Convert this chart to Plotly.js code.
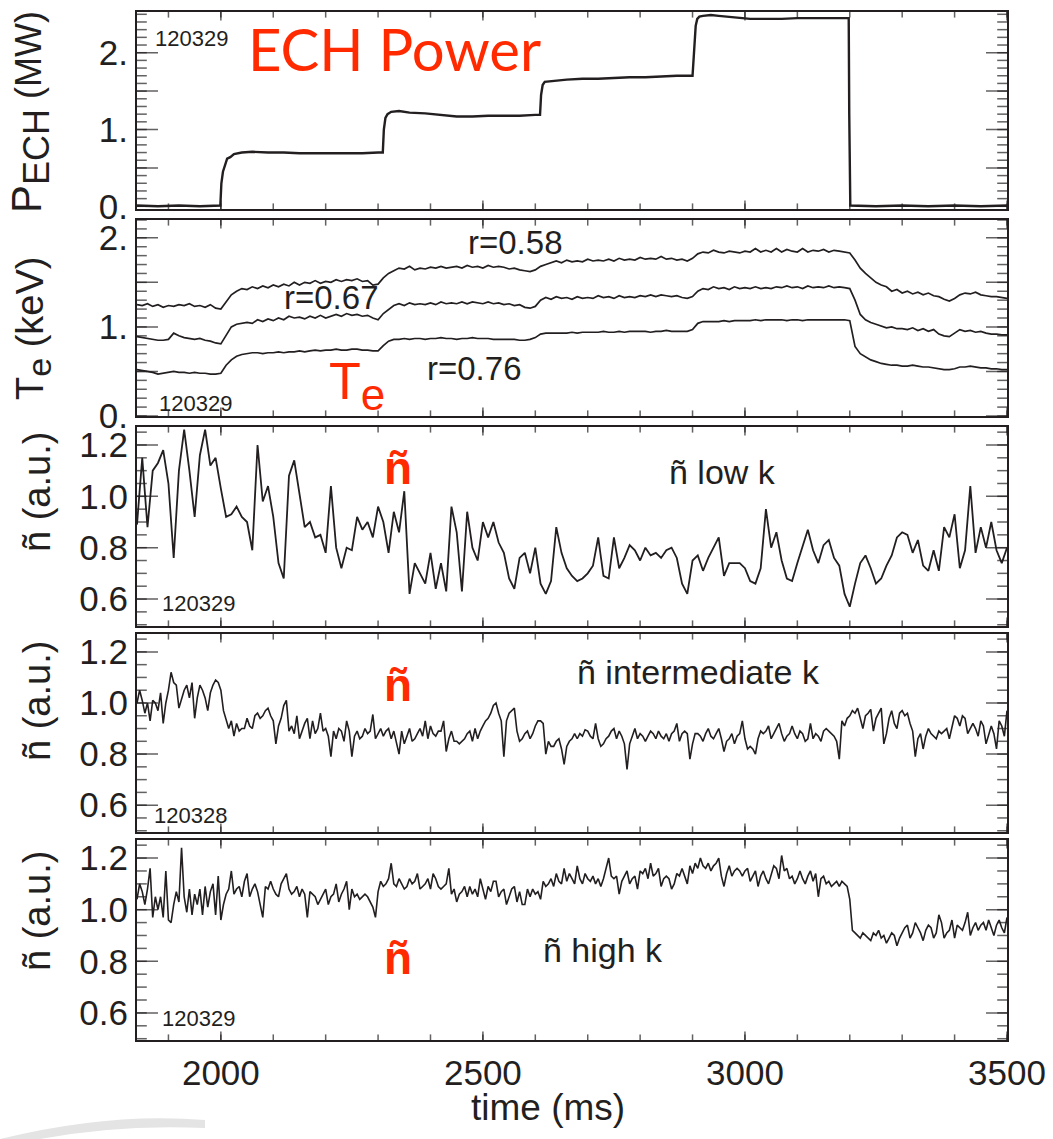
<!DOCTYPE html>
<html>
<head>
<meta charset="utf-8">
<script src="https://cdn.plot.ly/plotly-3.0.1.min.js"></script>
<style>html,body{margin:0;padding:0;background:#fff}</style>
</head>
<body>
<div id="chart" style="width:1053px;height:1139px"></div>
<script>
// ---------------- DATA ----------------
const timeRange = [1840, 3500];          // ms
const sampleStart = 1840;                 // ms, first sample of the sampled signals
const teStep = 10;                        // ms between Te samples
const lowKStep = 10;                      // ms between low-k samples
const fineStep = 5;                       // ms between intermediate/high-k samples

// ECH power (MW), shot 120329
const pechTime = [1840,1880,1920,1960,1999,2001,2004,2008,2012,2018,2025,2040,2060,2090,2120,2150,2180,2210,2240,2270,2300,2309,2311,2314,2318,2325,2340,2360,2390,2420,2450,2480,2510,2540,2570,2600,2609,2611,2614,2618,2630,2660,2690,2720,2750,2780,2810,2840,2870,2900,2904,2906,2909,2913,2920,2935,2950,2965,2980,2995,3010,3040,3070,3100,3130,3160,3198,3199,3201,3250,3300,3350,3400,3450,3500];
const pechMW = [0.01,0.0,0.01,0.0,0.01,0.30,0.45,0.55,0.62,0.64,0.68,0.70,0.71,0.70,0.70,0.69,0.69,0.69,0.69,0.69,0.70,0.70,1.00,1.15,1.20,1.23,1.24,1.22,1.21,1.19,1.17,1.17,1.18,1.18,1.18,1.19,1.19,1.45,1.58,1.62,1.63,1.65,1.66,1.66,1.67,1.68,1.68,1.69,1.70,1.70,2.10,2.35,2.44,2.47,2.48,2.49,2.48,2.47,2.46,2.45,2.44,2.44,2.44,2.45,2.45,2.45,2.45,1.2,0.01,0.0,0.01,0.0,0.01,0.0,0.01];

// Te (keV) at three radii, 10 ms samples from 1840 ms
const te058 = [1.25,1.24,1.26,1.23,1.25,1.22,1.24,1.23,1.25,1.24,1.26,1.23,1.24,1.22,1.25,1.21,
1.20,1.28,1.36,1.40,1.43,1.42,1.45,1.43,1.46,1.44,
1.47,1.45,1.48,1.46,1.50,1.47,1.50,1.49,1.52,1.49,
1.51,1.50,1.53,1.51,1.53,1.52,1.54,1.51,1.52,1.47,
1.48,1.55,1.60,1.63,1.66,1.65,1.68,1.64,1.66,1.65,
1.67,1.66,1.68,1.66,1.67,1.68,1.66,1.69,1.67,1.68,
1.66,1.69,1.67,1.68,1.67,1.65,1.66,1.64,1.63,1.62,
1.64,1.68,1.70,1.72,1.74,1.72,1.75,1.73,1.74,1.73,
1.76,1.74,1.75,1.74,1.76,1.74,1.77,1.75,1.76,1.75,
1.78,1.76,1.77,1.76,1.79,1.76,1.77,1.75,1.76,1.74,
1.77,1.82,1.84,1.83,1.86,1.84,1.83,1.85,1.84,1.83,
1.85,1.84,1.88,1.84,1.86,1.84,1.88,1.84,1.87,1.85,
1.84,1.88,1.84,1.86,1.85,1.87,1.84,1.86,1.85,1.84,
1.83,1.75,1.66,1.60,1.55,1.50,1.47,1.45,1.40,1.42,
1.38,1.40,1.37,1.39,1.36,1.38,1.35,1.34,1.31,1.29,
1.32,1.36,1.38,1.37,1.39,1.36,1.35,1.34,1.34,1.33,
1.32];
const te067 = [0.89,0.88,0.87,0.86,0.85,0.85,0.86,0.93,0.90,0.88,0.87,0.86,0.87,0.85,0.84,0.82,
0.81,0.90,1.00,1.03,1.04,1.05,1.04,1.08,1.06,1.09,
1.07,1.10,1.08,1.12,1.10,1.11,1.09,1.12,1.10,1.13,
1.10,1.12,1.14,1.12,1.15,1.13,1.14,1.12,1.13,1.10,
1.08,1.15,1.20,1.24,1.26,1.24,1.27,1.25,1.26,1.25,
1.27,1.25,1.28,1.26,1.27,1.26,1.28,1.26,1.28,1.27,
1.26,1.28,1.26,1.27,1.25,1.26,1.24,1.25,1.22,1.21,
1.23,1.30,1.33,1.31,1.34,1.32,1.33,1.31,1.34,1.32,
1.33,1.32,1.35,1.33,1.34,1.32,1.35,1.33,1.34,1.33,
1.35,1.34,1.36,1.34,1.36,1.35,1.34,1.35,1.33,1.32,
1.34,1.40,1.43,1.42,1.45,1.43,1.44,1.42,1.45,1.43,
1.44,1.43,1.45,1.43,1.44,1.43,1.45,1.44,1.46,1.44,
1.45,1.43,1.46,1.44,1.45,1.44,1.46,1.44,1.45,1.44,
1.43,1.30,1.14,1.08,1.05,1.03,1.01,0.99,1.00,0.98,
0.98,0.97,0.99,0.96,0.98,0.95,0.97,0.92,0.90,0.89,
0.93,0.97,0.95,0.96,0.94,0.95,0.93,0.92,0.92,0.91,
0.91];
const te076 = [0.52,0.51,0.50,0.49,0.47,0.48,0.49,0.50,0.49,0.49,0.48,0.49,0.48,0.48,0.47,0.47,
0.48,0.57,0.63,0.67,0.69,0.70,0.71,0.71,0.70,0.71,
0.71,0.72,0.71,0.72,0.72,0.73,0.72,0.73,0.74,0.73,
0.74,0.74,0.75,0.74,0.74,0.75,0.75,0.74,0.74,0.73,
0.73,0.79,0.84,0.86,0.86,0.87,0.86,0.87,0.87,0.86,
0.87,0.87,0.88,0.87,0.87,0.86,0.87,0.87,0.88,0.87,
0.87,0.87,0.86,0.86,0.86,0.86,0.86,0.85,0.85,0.86,
0.88,0.92,0.93,0.93,0.93,0.93,0.93,0.94,0.93,0.94,
0.94,0.94,0.94,0.95,0.94,0.94,0.95,0.94,0.95,0.95,
0.95,0.95,0.94,0.95,0.95,0.96,0.95,0.95,0.95,0.95,
0.97,1.04,1.06,1.06,1.06,1.06,1.07,1.06,1.07,1.07,
1.07,1.07,1.08,1.07,1.08,1.08,1.08,1.08,1.07,1.08,
1.08,1.07,1.08,1.08,1.08,1.08,1.08,1.08,1.08,1.08,
1.07,0.78,0.70,0.66,0.63,0.61,0.59,0.58,0.57,0.57,
0.56,0.56,0.57,0.56,0.55,0.55,0.54,0.53,0.52,0.52,
0.53,0.55,0.55,0.56,0.55,0.54,0.54,0.53,0.53,0.52,
0.52];

// density fluctuation, low k (10 ms samples)
const nLowK = [0.89,1.15,0.88,1.10,1.13,1.18,1.05,0.76,1.10,1.26,1.10,0.92,1.16,1.26,1.12,1.15,
1.03,0.92,0.93,0.96,0.92,0.90,0.79,1.20,0.98,1.04,
0.92,0.74,0.68,1.08,1.14,1.00,0.88,0.90,0.84,0.85,
0.78,1.04,0.80,0.72,0.80,0.79,0.92,0.87,0.90,0.84,
0.96,0.90,0.78,0.94,0.86,1.02,0.62,0.74,0.70,0.66,
0.78,0.64,0.74,0.63,0.96,0.86,0.63,0.94,0.80,0.75,
0.90,0.84,0.90,0.82,0.78,0.68,0.64,0.76,0.78,0.70,
0.80,0.66,0.62,0.67,0.88,0.78,0.72,0.69,0.67,0.68,
0.70,0.73,0.84,0.69,0.68,0.84,0.72,0.76,0.81,0.79,
0.75,0.80,0.77,0.78,0.76,0.79,0.80,0.76,0.66,0.62,
0.75,0.77,0.71,0.76,0.80,0.84,0.69,0.74,0.74,0.74,
0.72,0.67,0.66,0.72,0.95,0.80,0.86,0.75,0.68,0.67,
0.74,0.81,0.87,0.79,0.74,0.81,0.83,0.76,0.73,0.62,
0.57,0.66,0.74,0.77,0.72,0.66,0.68,0.73,0.77,0.84,
0.86,0.85,0.78,0.83,0.73,0.71,0.79,0.71,0.88,0.84,
0.93,0.72,0.79,1.04,0.78,0.88,0.80,0.90,0.79,0.74,
0.80];

// density fluctuation, intermediate k (5 ms samples, shot 120328)
const nIntK = [1.00,1.05,1.01,0.96,1.00,0.93,1.01,1.00,0.97,1.04,0.92,1.00,1.05,1.12,1.08,1.07,0.98,1.02,1.05,1.07,
1.02,1.08,0.94,1.02,1.07,1.05,1.02,0.97,1.04,1.07,1.09,1.08,1.05,0.97,0.93,0.90,0.93,0.87,0.92,0.89,
0.90,0.90,0.94,0.91,0.90,0.95,0.96,0.94,0.95,0.97,0.98,0.95,0.93,0.84,0.91,0.94,0.99,1.01,0.89,0.91,
0.88,0.95,0.86,0.89,0.92,0.94,0.86,0.93,0.88,0.90,0.96,0.89,0.90,0.87,0.79,0.89,0.86,0.90,0.89,0.85,
0.93,0.89,0.79,0.87,0.89,0.86,0.87,0.90,0.88,0.89,0.955,0.86,0.88,0.90,0.87,0.89,0.90,0.86,0.89,0.84,
0.80,0.89,0.84,0.87,0.90,0.85,0.86,0.88,0.90,0.87,0.93,0.86,0.91,0.88,0.87,0.89,0.89,0.93,0.81,0.86,
0.89,0.85,0.85,0.84,0.85,0.86,0.88,0.89,0.85,0.90,0.86,0.89,0.91,0.93,0.94,0.96,0.99,1.00,0.96,0.93,
0.79,0.93,0.96,0.97,0.98,0.89,0.85,0.86,0.88,0.89,0.86,0.88,0.91,0.93,0.93,0.92,0.80,0.85,0.83,0.83,
0.85,0.86,0.82,0.76,0.83,0.85,0.86,0.88,0.86,0.88,0.87,0.895,0.89,0.87,0.86,0.92,0.86,0.83,0.84,0.86,
0.87,0.89,0.90,0.86,0.89,0.87,0.84,0.74,0.84,0.87,0.90,0.86,0.88,0.87,0.85,0.87,0.89,0.88,0.86,0.89,
0.87,0.86,0.88,0.85,0.88,0.89,0.92,0.85,0.88,0.89,0.88,0.78,0.84,0.88,0.88,0.87,0.85,0.88,0.90,0.87,
0.86,0.88,0.90,0.86,0.81,0.85,0.86,0.88,0.84,0.87,0.88,0.93,0.86,0.82,0.83,0.82,0.80,0.86,0.89,0.88,
0.89,0.91,0.86,0.88,0.90,0.92,0.88,0.85,0.87,0.88,0.91,0.88,0.86,0.89,0.88,0.85,0.86,0.92,0.86,0.88,
0.87,0.85,0.89,0.90,0.89,0.88,0.87,0.85,0.78,0.93,0.91,0.94,0.95,0.97,0.96,0.98,0.94,0.90,0.95,0.96,
0.975,0.89,0.94,0.96,0.98,0.84,0.88,0.94,0.97,0.92,0.90,0.96,0.97,0.95,0.96,0.92,0.89,0.79,0.86,0.88,
0.82,0.87,0.90,0.88,0.87,0.86,0.89,0.88,0.89,0.90,0.86,0.90,0.95,0.94,0.91,0.95,0.94,0.88,0.90,0.92,
0.90,0.87,0.93,0.91,0.84,0.88,0.91,0.88,0.82,0.93,0.91,0.87,0.97];

// density fluctuation, high k (5 ms samples)
const nHighK = [1.04,1.10,1.07,1.02,1.08,1.16,0.97,1.05,1.00,1.05,0.97,1.15,0.96,0.95,1.02,1.07,1.03,1.24,1.05,0.99,
1.08,0.98,1.06,1.02,1.08,0.98,1.09,1.01,1.07,1.10,0.98,1.13,0.96,1.02,1.06,1.08,1.15,1.06,1.08,1.09,
1.05,1.11,1.14,1.05,1.08,1.10,1.07,1.02,0.97,1.09,1.08,1.11,1.08,1.06,1.05,1.10,1.12,1.14,1.08,1.06,
1.07,1.09,1.05,1.08,1.06,0.97,1.07,1.06,1.05,1.02,1.04,1.06,1.08,1.02,1.05,1.06,1.10,1.03,1.06,1.08,
1.11,1.00,1.08,1.05,1.06,1.04,1.05,1.06,1.05,1.03,1.01,0.97,1.07,1.11,1.09,1.10,1.12,1.18,1.10,1.09,
1.12,1.10,1.08,1.09,1.12,1.10,1.11,1.14,1.08,1.09,1.10,1.12,1.08,1.14,1.12,1.09,1.08,1.09,1.10,1.16,
1.06,1.08,1.03,1.06,1.07,1.09,1.05,1.09,1.06,1.08,1.05,1.12,1.08,1.04,1.09,1.07,1.11,1.11,1.05,1.07,
1.08,1.02,1.05,1.08,1.09,1.03,1.07,1.02,1.02,1.08,1.05,1.08,1.06,1.07,1.04,1.11,1.09,1.10,1.12,1.09,
1.14,1.11,1.10,1.16,1.11,1.14,1.12,1.10,1.17,1.12,1.10,1.14,1.12,1.11,1.13,1.10,1.12,1.09,1.12,1.16,
1.20,1.13,1.12,1.13,1.06,1.11,1.13,1.15,1.10,1.12,1.13,1.08,1.15,1.14,1.16,1.12,1.18,1.13,1.14,1.16,
1.09,1.12,1.13,1.12,1.08,1.10,1.14,1.13,1.16,1.13,1.10,1.17,1.14,1.18,1.16,1.20,1.17,1.16,1.18,1.15,
1.17,1.18,1.20,1.13,1.09,1.14,1.17,1.13,1.15,1.16,1.15,1.13,1.15,1.16,1.11,1.13,1.15,1.09,1.13,1.15,
1.12,1.10,1.14,1.17,1.16,1.12,1.21,1.15,1.16,1.12,1.13,1.10,1.12,1.15,1.12,1.10,1.13,1.15,1.11,1.14,
1.05,1.12,1.13,1.10,1.11,1.09,1.10,1.11,1.09,1.11,1.10,1.09,1.04,0.92,0.91,0.90,0.89,0.91,0.90,0.89,
0.88,0.91,0.90,0.92,0.89,0.90,0.87,0.89,0.91,0.90,0.86,0.89,0.91,0.93,0.94,0.89,0.91,0.95,0.93,0.91,
0.88,0.92,0.94,0.93,0.89,0.91,0.98,0.95,0.89,0.91,0.92,0.96,0.89,0.94,0.93,0.92,0.95,0.99,0.90,0.93,
0.95,0.92,0.94,0.95,0.92,0.96,0.93,0.90,0.94,0.96,0.93,0.91,0.97];

// axis tick values / labels
const xMajorTicks = [2000, 2500, 3000, 3500];
const xTickText = ['2000', '2500', '3000', '3500'];
const powerTickVals = [0, 0.5, 1, 1.5, 2];
const powerTickText = ['0.', ' ', '1.', ' ', '2.'];
const teTickVals = [0, 0.5, 1, 1.5, 2];
const teTickText = ['0.', ' ', '1.', ' ', '2.'];
const nTickVals = [0.6, 0.8, 1.0, 1.2];
const nTickText = ['0.6', '0.8', '1.0', '1.2'];

// ---------------- STYLE / LAYOUT ----------------
const INK = '#231f20';
const RED = '#ff2a00';
const FONT = 'Liberation Sans, Arial, Helvetica, sans-serif';
const W = 1053, H = 1139;
const M = {l: 137, r: 46, t: 12, b: 90};
const PW = W - M.l - M.r, PH = H - M.t - M.b;
const px = x => (x - M.l) / PW;
const py = y => (M.t + PH - y) / PH;

// panel frames in pixel rows (top, bottom)
const panels = [[12, 209], [220, 416], [427, 626], [634, 832], [840, 1040]];
const yRanges = [[-0.035, 2.53], [0, 2.2], [0.495, 1.27], [0.495, 1.27], [0.495, 1.27]];

// evenly spaced tick positions (ticks, not data)
function seq(a, b, step) {
  const out = [];
  const n = Math.round((b - a) / step);
  for (let k = 0; k <= n; k++) out.push(+(a + k * step).toFixed(4));
  return out;
}
const xMinorTicks = seq(1900, 3500, 100);
const yMajor = [powerTickVals, teTickVals, seq(0.6, 1.2, 0.2), seq(0.6, 1.2, 0.2), seq(0.6, 1.2, 0.2)];
const yMinor = [seq(0, 2.5, 0.1), seq(0, 2.2, 0.1), seq(0.5, 1.25, 0.05), seq(0.5, 1.25, 0.05), seq(0.5, 1.25, 0.05)];

// inside tick marks drawn as line markers on the frame edges; the outer half is clipped away by the plot area
function tickMarks(i) {
  const idx = i + 1;
  const xs = [], ys = [], sz = [], sym = [];
  const yr = yRanges[i];
  timeRange.forEach(function (xe) {
    yMajor[i].forEach(function (v) { xs.push(xe); ys.push(v); sz.push(30); sym.push('line-ew'); });
    yMinor[i].forEach(function (v) { xs.push(xe); ys.push(v); sz.push(14); sym.push('line-ew'); });
  });
  yr.forEach(function (ye) {
    xMajorTicks.forEach(function (v) { xs.push(v); ys.push(ye); sz.push(12); sym.push('line-ns'); });
    xMinorTicks.forEach(function (v) { xs.push(v); ys.push(ye); sz.push(8); sym.push('line-ns'); });
  });
  return {
    x: xs, y: ys, xaxis: idx === 1 ? 'x' : 'x' + idx, yaxis: idx === 1 ? 'y' : 'y' + idx,
    mode: 'markers', cliponaxis: true, hoverinfo: 'skip',
    marker: {symbol: sym, size: sz, color: INK, line: {color: INK, width: 1.5}}
  };
}

const traces = [
  {x: pechTime, y: pechMW, xaxis: 'x', yaxis: 'y', mode: 'lines', line: {color: INK, width: 2.4}},
  {x0: sampleStart, dx: teStep, y: te058, xaxis: 'x2', yaxis: 'y2', mode: 'lines', line: {color: INK, width: 1.7}},
  {x0: sampleStart, dx: teStep, y: te067, xaxis: 'x2', yaxis: 'y2', mode: 'lines', line: {color: INK, width: 1.7}},
  {x0: sampleStart, dx: teStep, y: te076, xaxis: 'x2', yaxis: 'y2', mode: 'lines', line: {color: INK, width: 1.7}},
  {x0: sampleStart, dx: lowKStep, y: nLowK, xaxis: 'x3', yaxis: 'y3', mode: 'lines', line: {color: INK, width: 1.8}},
  {x0: sampleStart, dx: fineStep, y: nIntK, xaxis: 'x4', yaxis: 'y4', mode: 'lines', line: {color: INK, width: 1.6}},
  {x0: sampleStart, dx: fineStep, y: nHighK, xaxis: 'x5', yaxis: 'y5', mode: 'lines', line: {color: INK, width: 1.6}},
  tickMarks(0), tickMarks(1), tickMarks(2), tickMarks(3), tickMarks(4),
  // empty trace that carries the overlay axis used only for the time tick labels
  {x: [], y: [], xaxis: 'x6', yaxis: 'y5', mode: 'lines', hoverinfo: 'skip'}
];

function xAxis(i) {
  return {
    anchor: i === 1 ? 'y' : 'y' + i,
    domain: [0, 1], range: timeRange,
    showline: true, mirror: true, linecolor: INK, linewidth: 2,
    ticks: '', showgrid: false, zeroline: false,
    showticklabels: false
  };
}
function yAxis(i, vals, text) {
  const [top, bot] = panels[i - 1];
  return {
    anchor: i === 1 ? 'x' : 'x' + i,
    domain: [py(bot), py(top)], range: yRanges[i - 1],
    showline: true, mirror: true, linecolor: INK, linewidth: 2,
    ticks: '', showgrid: false, zeroline: false,
    tickmode: 'array', tickvals: vals, ticktext: text,
    tickfont: {family: FONT, size: 35, color: INK}
  };
}

function note(text, x, y, size, opts) {
  return Object.assign({
    text: text, xref: 'paper', yref: 'paper', x: px(x), y: py(y),
    xanchor: 'center', yanchor: 'middle', showarrow: false,
    font: {family: FONT, size: size, color: INK}
  }, opts || {});
}

const annotations = [
  // panel 1
  note('120329', 191, 38, 22),
  note('ECH Power', 394, 48, 58, {font: {family: 'Lato, Open Sans, sans-serif', size: 58, color: RED}}),
  // panel 2
  note('r=0.58', 515, 243, 33),
  note('r=0.67', 331, 298, 33),
  note('r=0.76', 474, 368, 33),
  note("T<sub><span style='font-size:44px'>e</span></sub>", 357, 385, 52, {font: {family: FONT, size: 52, color: RED}}),
  note('120329', 195, 403, 22),
  // panel 3
  note('<b>ñ</b>', 398, 468, 46, {font: {family: FONT, size: 46, color: RED}}),
  note('ñ low k', 722, 472, 34),
  note('120329', 198, 603, 22),
  // panel 4
  note('<b>ñ</b>', 398, 685, 46, {font: {family: FONT, size: 46, color: RED}}),
  note('ñ intermediate k', 698, 672, 34),
  note('120328', 190, 815, 22),
  // panel 5
  note('<b>ñ</b>', 398, 958, 46, {font: {family: FONT, size: 46, color: RED}}),
  note('ñ high k', 603, 950, 34),
  note('120329', 198, 1018, 22),
  // y-axis titles
  note("<span style='font-size:42px'>P</span><sub><span style='font-size:36px'>ECH</span></sub> (MW)", 30, 112, 36, {textangle: -90}),
  note("T<sub><span style='font-size:34px'>e</span></sub> (keV)", 34, 328, 38, {textangle: -90}),
  note('ñ (a.u.)', 37, 492, 38, {textangle: -90}),
  note('ñ (a.u.)', 37, 701, 38, {textangle: -90}),
  note('ñ (a.u.)', 37, 911, 38, {textangle: -90}),
  // x-axis title
  note('time (ms)', 548, 1107, 37)
];

// faint logo swoosh in the lower-left corner of the original figure
const shapes = [{
  type: 'path', xref: 'paper', yref: 'paper', layer: 'below',
  path: 'M ' + px(0) + ',' + py(1139) + ' Q ' + px(110) + ',' + py(1112) + ' ' + px(205) + ',' + py(1120) +
        ' L ' + px(205) + ',' + py(1128) + ' Q ' + px(120) + ',' + py(1124) + ' ' + px(40) + ',' + py(1139) + ' Z',
  fillcolor: '#e4e4e4', line: {width: 0}
}];

const layout = {
  width: W, height: H, margin: M,
  paper_bgcolor: '#fff', plot_bgcolor: '#fff',
  showlegend: false,
  font: {family: FONT, color: INK},
  xaxis: xAxis(1), xaxis2: xAxis(2), xaxis3: xAxis(3), xaxis4: xAxis(4), xaxis5: xAxis(5),
  xaxis6: {
    overlaying: 'x5', anchor: 'free', position: 0, side: 'bottom', range: timeRange,
    showline: false, ticks: '', showgrid: false, zeroline: false,
    tickmode: 'array', tickvals: xMajorTicks, ticktext: xTickText,
    tickfont: {family: FONT, size: 35, color: INK}
  },
  yaxis: yAxis(1, powerTickVals, powerTickText),
  yaxis2: yAxis(2, teTickVals, teTickText),
  yaxis3: yAxis(3, nTickVals, nTickText),
  yaxis4: yAxis(4, nTickVals, nTickText),
  yaxis5: yAxis(5, nTickVals, nTickText),
  annotations: annotations,
  shapes: shapes
};

Plotly.newPlot('chart', traces, layout, {displayModeBar: false});
</script>
</body>
</html>
